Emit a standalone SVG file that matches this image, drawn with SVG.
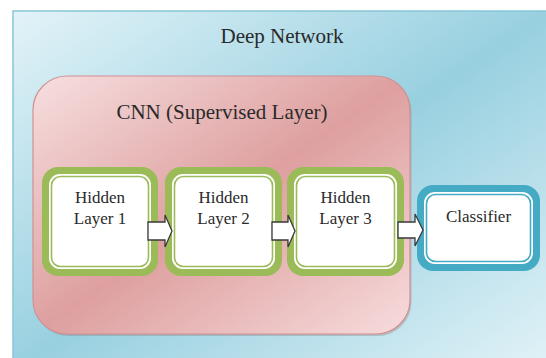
<svg xmlns="http://www.w3.org/2000/svg" width="546" height="358" viewBox="0 0 546 358">
  <defs>
    <linearGradient id="bg" x1="0" y1="0" x2="1" y2="1">
      <stop offset="0" stop-color="#e3f3f8"/>
      <stop offset="0.5" stop-color="#98d0e0"/>
      <stop offset="1" stop-color="#e3f3f8"/>
    </linearGradient>
    <linearGradient id="pink" x1="0" y1="0" x2="1" y2="1">
      <stop offset="0" stop-color="#f7dfe0"/>
      <stop offset="0.5" stop-color="#de9f9f"/>
      <stop offset="1" stop-color="#f7dcdd"/>
    </linearGradient>
  </defs>
  <style>
    text { font-family: "Times New Roman", Tinos, "Liberation Serif", "DejaVu Serif", "Noto Serif", serif; fill: #2a2a2a; text-anchor: middle; }
    .big { font-size: 21px; }
    .sm { font-size: 17px; }
    .gOut { fill: #9bbb59; }
    .bOut { fill: #45aac4; }
    .gap { fill: #ffffff; }
    .gIn { fill: #ffffff; stroke: #9bbb59; stroke-width: 1.6; }
    .bIn { fill: #ffffff; stroke: #45aac4; stroke-width: 1.6; }
    .arrow { fill: #ffffff; stroke: #3a3a3a; stroke-width: 1.3; stroke-linejoin: miter; }
  </style>
  <rect x="0" y="0" width="546" height="358" fill="#ffffff"/>
  <g id="deep-network">
    <rect x="13" y="11" width="540" height="360" fill="url(#bg)" stroke="#86c6d6" stroke-width="1.5"/>
    <text class="big" x="282" y="43">Deep Network</text>
  </g>
  <g id="cnn">
    <rect x="34.5" y="78" width="377" height="258" rx="34" fill="#8a7a7c" opacity="0.35"/>
    <rect x="33" y="76" width="377" height="258" rx="34" fill="url(#pink)" stroke="#d29091" stroke-width="1.2"/>
    <text class="big" x="222" y="119">CNN (Supervised Layer)</text>
  </g>
  <g id="hidden1">
    <rect class="gOut" x="42" y="167" width="116" height="109" rx="16"/>
    <rect class="gap" x="49" y="174" width="102" height="95" rx="11"/>
    <rect class="gIn" x="51.5" y="176.5" width="97" height="90" rx="9"/>
    <text class="sm" x="100" y="203">Hidden</text>
    <text class="sm" x="100" y="224">Layer 1</text>
  </g>
  <g id="hidden2">
    <rect class="gOut" x="165" y="167" width="117" height="109" rx="16"/>
    <rect class="gap" x="172" y="174" width="103" height="95" rx="11"/>
    <rect class="gIn" x="174.5" y="176.5" width="98" height="90" rx="9"/>
    <text class="sm" x="223.5" y="203">Hidden</text>
    <text class="sm" x="223.5" y="224">Layer 2</text>
  </g>
  <g id="hidden3">
    <rect class="gOut" x="287" y="167" width="117" height="109" rx="16"/>
    <rect class="gap" x="294" y="174" width="103" height="95" rx="11"/>
    <rect class="gIn" x="296.5" y="176.5" width="98" height="90" rx="9"/>
    <text class="sm" x="345.5" y="203">Hidden</text>
    <text class="sm" x="345.5" y="224">Layer 3</text>
  </g>
  <g id="classifier">
    <rect class="bOut" x="417" y="185" width="123" height="86" rx="16"/>
    <rect class="gap" x="424" y="192" width="109" height="72" rx="11"/>
    <rect class="bIn" x="426.5" y="194.5" width="104" height="67" rx="9"/>
    <text class="sm" x="478.5" y="222">Classifier</text>
  </g>
  <g id="connectors">
    <path class="arrow" d="M148,222 H165 V215 L172,231 L165,247 V240 H148 Z"/>
    <path class="arrow" d="M272,222 H288 V215 L295,231 L288,247 V240 H272 Z"/>
    <path class="arrow" d="M398,222 H415 V214 L423,230 L415,246 V238 H398 Z"/>
  </g>
</svg>
